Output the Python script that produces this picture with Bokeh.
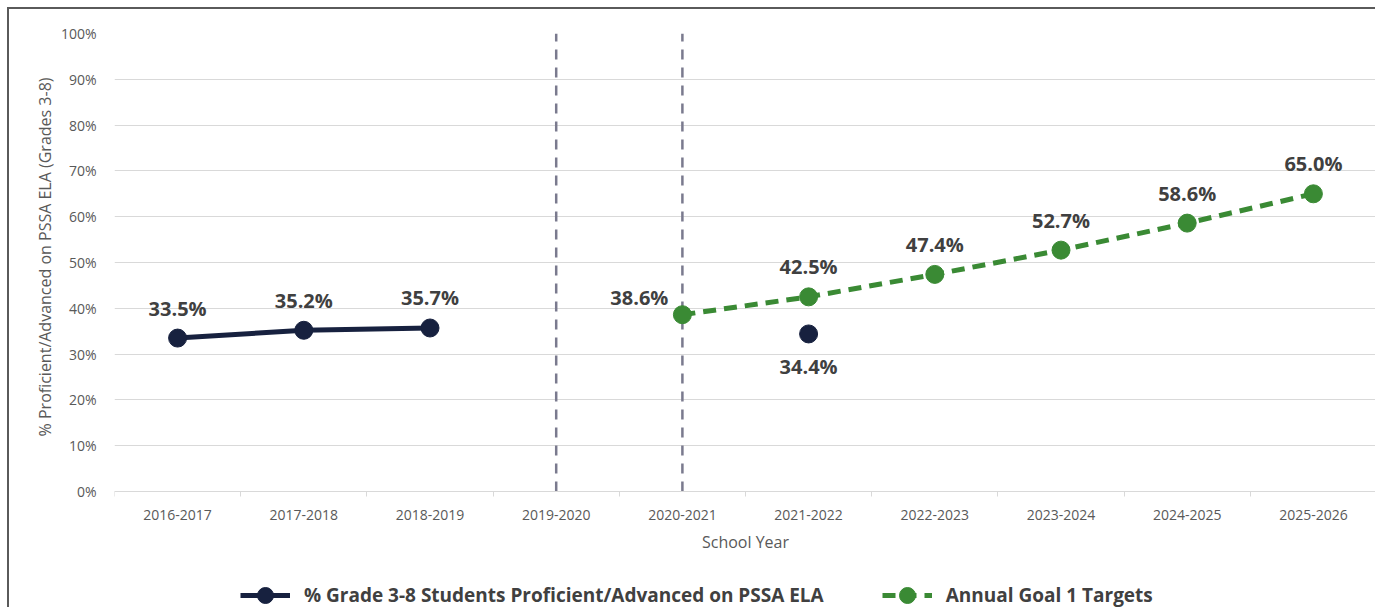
from bokeh.plotting import figure
from bokeh.models import (Range1d, FixedTicker, PrintfTickFormatter, Legend, LegendItem,
                          ColumnDataSource, LabelSet, Title)
from bokeh.core.properties import value
from bokeh.embed import file_html
from bokeh.resources import INLINE

# ---- data ----
years = ["2016-2017", "2017-2018", "2018-2019", "2019-2020", "2020-2021",
         "2021-2022", "2022-2023", "2023-2024", "2024-2025", "2025-2026"]
actual = [33.5, 35.2, 35.7, None, None, 34.4, None, None, None, None]
targets = [None, None, None, None, 38.6, 42.5, 47.4, 52.7, 58.6, 65.0]
gap_years = ["2019-2020", "2020-2021"]
y_ticks = [0, 10, 20, 30, 40, 50, 60, 70, 80, 90, 100]

NAVY = "#17213f"
GREEN = "#3a8a34"
FONT = "Open Sans"

xc = [i + 0.5 for i in range(len(years))]
nan = float("nan")
act_y = [nan if v is None else v for v in actual]
tgt_y = [nan if v is None else v for v in targets]

# layout: plot frame runs to the figure bottom; value axis 0..100 occupies the upper part
H, TOP, PLOT_H = 600, 24, 458
y_lo = -100.0 * (H - TOP - PLOT_H) / PLOT_H

p = figure(width=1368, height=H, output_backend="svg", toolbar_location=None,
           x_range=Range1d(0, len(years)), y_range=Range1d(y_lo, 100),
           min_border_left=105, min_border_right=1, min_border_top=TOP,
           min_border_bottom=0)
p.styles = {"margin-left": "7px", "margin-top": "7px",
            "border-left": "2px solid #5a5a5a", "border-top": "2px solid #5a5a5a"}
p.outline_line_color = None
p.background_fill_color = "white"
p.border_fill_color = "white"

# x axis drawn at value 0
p.xaxis.fixed_location = 0
p.xaxis.ticker = FixedTicker(ticks=xc, minor_ticks=list(range(len(years) + 1)))
p.xaxis.major_label_overrides = {x: y for x, y in zip(xc, years)}
p.xaxis.major_tick_line_color = None
p.xaxis.minor_tick_line_color = "#d9d9d9"
p.xaxis.minor_tick_in = 0
p.xaxis.minor_tick_out = 5
p.xaxis.axis_line_color = "#d9d9d9"
p.xaxis.major_label_text_font = FONT
p.xaxis.major_label_text_font_size = "14px"
p.xaxis.major_label_text_color = "#595959"
p.xaxis.major_label_standoff = 12
p.xaxis.axis_label = "School Year"
p.xaxis.axis_label_text_font = FONT
p.xaxis.axis_label_text_font_style = "normal"
p.xaxis.axis_label_text_font_size = "16px"
p.xaxis.axis_label_text_color = "#595959"
p.xaxis.axis_label_standoff = 8

p.yaxis.ticker = FixedTicker(ticks=y_ticks)
p.yaxis.formatter = PrintfTickFormatter(format="%d%%")
p.yaxis.axis_line_color = None
p.yaxis.major_tick_line_color = None
p.yaxis.minor_tick_line_color = None
p.yaxis.major_label_text_font = FONT
p.yaxis.major_label_text_font_size = "14px"
p.yaxis.major_label_text_color = "#595959"
p.yaxis.major_label_standoff = 12

p.add_layout(Title(text="% Proficient/Advanced on PSSA ELA (Grades 3-8)", align="right",
                   offset=44, standoff=4, text_font=FONT, text_font_style="normal",
                   text_font_size="16px", text_color="#595959"), "left")

p.xgrid.grid_line_color = None
p.ygrid.grid_line_color = "#d9d9d9"
p.ygrid.grid_line_width = 1

# dashed separators (span the 0-100% value range)
gx = [years.index(g) + 0.5 for g in gap_years]
p.segment(x0=gx, x1=gx, y0=[y_ticks[0]] * len(gx), y1=[y_ticks[-1]] * len(gx),
          line_color="#7a7a8e", line_width=2.5, line_dash="10 8")

# series
l1 = p.line(xc, act_y, line_color=NAVY, line_width=5)
s1 = p.scatter(xc, act_y, size=18, fill_color=NAVY, line_color=NAVY)
l2 = p.line(xc, tgt_y, line_color=GREEN, line_width=5, line_dash="13 8")
s2 = p.scatter(xc, tgt_y, size=18, fill_color=GREEN, line_color=GREEN)

# data labels
def labels(vals, below_idx=(), left_idx=()):
    xs, ys, txt, dx, dy, al = [], [], [], [], [], []
    for i, v in enumerate(vals):
        if v is None:
            continue
        xs.append(xc[i]); ys.append(v); txt.append(f"{v:.1f}%")
        if i in below_idx:
            dx.append(0); dy.append(-33); al.append("center")
        elif i in left_idx:
            dx.append(-14); dy.append(17); al.append("right")
        else:
            dx.append(0); dy.append(30); al.append("center")
    return ColumnDataSource(dict(x=xs, y=ys, t=txt, dx=dx, dy=dy, al=al))

for src in (labels(actual, below_idx=(5,)), labels(targets, left_idx=(4,))):
    p.add_layout(LabelSet(x="x", y="y", text="t", source=src, x_offset="dx", y_offset="dy",
                          text_align="al", text_baseline="middle", text_font=value(FONT),
                          text_font_size="20px", text_font_style="bold",
                          text_color="#404040"))

legend = Legend(items=[
    LegendItem(label="% Grade 3-8 Students Proficient/Advanced on PSSA ELA", renderers=[l1, s1]),
    LegendItem(label="Annual Goal 1 Targets", renderers=[l2, s2]),
], orientation="horizontal", location=(126, -6), border_line_color=None,
    background_fill_alpha=0, label_text_font=FONT, label_text_font_size="19px",
    label_text_font_style="bold", label_text_color="#404040", glyph_width=50,
    glyph_height=40, spacing=58, padding=0, margin=0, label_standoff=14)
p.add_layout(legend, "center")

open("out.html", "w").write(file_html(p, INLINE))
